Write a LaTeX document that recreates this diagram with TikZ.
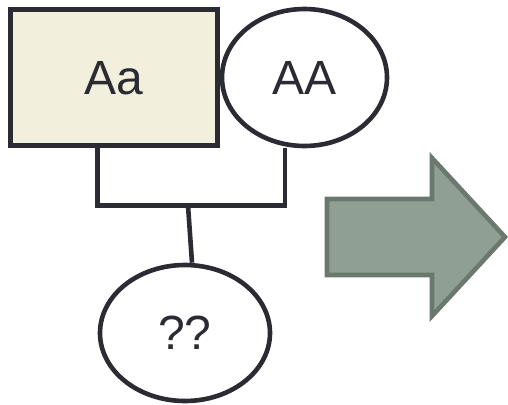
\documentclass[tikz,border=0pt]{standalone}
\usepackage[dvipsnames]{xcolor}
\usepackage{tikz}
\usetikzlibrary{shapes.geometric}
\usepackage{fontspec}
\setmainfont{Liberation Sans}
\definecolor{InkGray}{HTML}{2B2B33}
\definecolor{PaleBeige}{HTML}{F2F0DC}
\definecolor{SageFill}{HTML}{909F93}
\definecolor{SageLine}{HTML}{6B786D}

\begin{document}
\begin{tikzpicture}[x=1pt,y=-1pt,
  link/.style={color=InkGray,line width=4.6pt},
  txt/.style={text=InkGray,font=\fontsize{48}{48}\selectfont,inner sep=0pt},
  person/.style={draw=InkGray,line width=4.6pt,ellipse,txt}]
\useasboundingbox (0,0) rectangle (508,404);
\node[draw=InkGray,line width=5pt,fill=PaleBeige,minimum width=207.5pt,minimum height=135.5pt,txt] (aa) at (113.75,77.75) {Aa};
\node[person,minimum width=165pt,minimum height=137pt] (AA) at (304.5,77.5) {AA};
\node[person,minimum width=170pt,minimum height=136pt] (child) at (185,333) {??};
\coordinate (barL) at (97.5,205.5);
\coordinate (barR) at (285,205.5);
\coordinate (drop) at (188,205.5);
\draw[link] (aa.south -| barL) -- (barL) -- (barR) -- (AA.south -| barR);
\draw[link] (drop) -- ([xshift=7pt]child.north);
% big arrow
\draw[fill=SageFill,draw=SageLine,line width=4.6pt] (327,199) -- (432,199) -- (432,158) -- (505,237) -- (432,316) -- (432,275) -- (327,275) -- cycle;
\end{tikzpicture}
\end{document}
